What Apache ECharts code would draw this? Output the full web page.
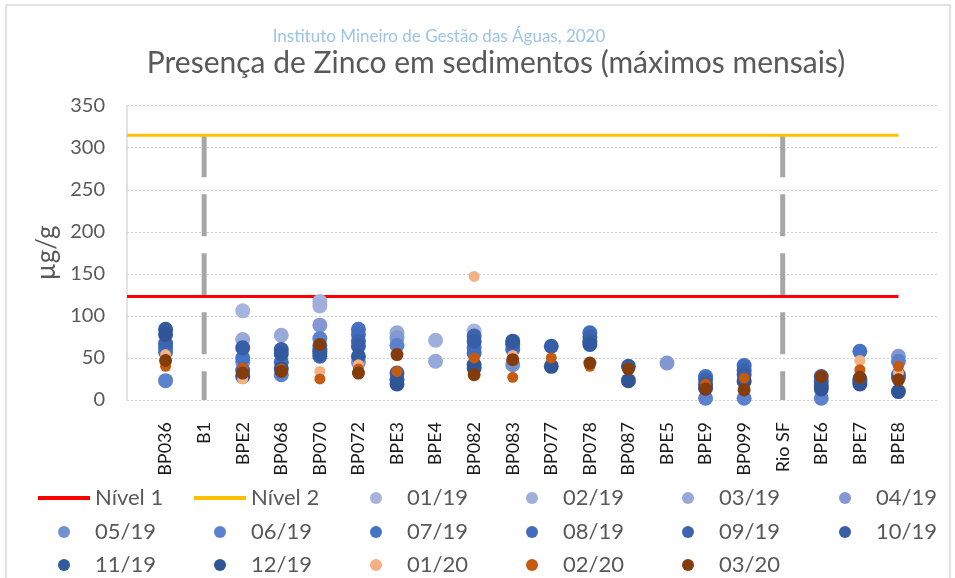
<!DOCTYPE html>
<html>
<head>
<meta charset="utf-8">
<script src="https://cdn.jsdelivr.net/npm/echarts@6/dist/echarts.min.js"></script>
<style>html,body{margin:0;padding:0;background:#fff}#c{width:955px;height:578px}</style>
</head>
<body>
<div id="c"></div>
<script>
// ---- data ----
const categories = ['BP036','B1','BPE2','BP068','BP070','BP072','BPE3','BPE4','BP082','BP083','BP077','BP078','BP087','BPE5','BPE9','BP099','Rio SF','BPE6','BPE7','BPE8'];
const seriesNames = ['01/19','02/19','03/19','04/19','05/19','06/19','07/19','08/19','09/19','10/19','11/19','12/19','01/20','02/20','03/20'];
const m01_19 = [null,null,106,null,117,null,null,null,82,null,null,null,null,null,null,null,null,null,null,null];
const m02_19 = [null,null,null,null,112,null,null,71,null,null,null,null,null,null,null,null,null,null,null,null];
const m03_19 = [null,null,72,77,null,null,80,46,null,null,null,null,null,null,null,null,null,null,null,null];
const m04_19 = [null,null,null,null,89,null,74,null,null,null,null,null,null,44,null,null,null,null,null,52];
const m05_19 = [null,null,45,null,null,45,null,null,null,42,null,null,null,null,null,null,null,null,null,null];
const m06_19 = [23,null,null,30,73,null,65,null,null,null,null,null,null,null,2,2,null,2,null,46];
const m07_19 = [57,null,50,null,65,84,null,null,62,60,null,null,null,null,28,null,null,null,58,null];
const m08_19 = [62,null,null,45,58,78,null,null,56,null,null,80,null,null,null,41,null,null,null,30];
const m09_19 = [67,null,35,null,52,70,null,null,76,66,null,75,null,null,24,35,null,28,null,null];
const m10_19 = [null,null,62,60,60,64,32,null,70,null,64,70,null,null,null,30,null,22,25,27];
const m11_19 = [84,null,null,55,55,52,24,null,42,70,null,66,40,null,18,null,null,17,22,null];
const m12_19 = [78,null,28,37,null,null,19,null,38,null,40,null,23,null,14,22,null,13,19,10];
const m01_20 = [54,null,25,null,34,42,null,null,147,53,null,null,null,null,null,null,null,null,47,32];
const m02_20 = [40,null,38,37,25,37,34,null,50,27,50,40,38,null,19,26,null,null,36,40];
const m03_20 = [47,null,32,34,66,32,54,null,30,48,null,44,37,null,13,12,null,28,27,24];
const seriesValues = [m01_19,m02_19,m03_19,m04_19,m05_19,m06_19,m07_19,m08_19,m09_19,m10_19,m11_19,m12_19,m01_20,m02_20,m03_20];
const nivel1 = 123;
const nivel2 = 315;
const dividerTop = 315;
const dividerNames = ['B1','Rio SF'];
const yTicks = [0,50,100,150,200,250,300,350];

// ---- styles ----
const colors = ['#A6B4DE','#9FAFDB','#97A9D9','#8398D3','#7290CF','#5C82CE','#4472C4','#426DBE','#3C64B1','#385EA8','#325A9E','#2F5597','#F4B183','#C55A11','#843C0C'];
const sizes = [15,15,15,15,15,15,15,15,15,15,15,15,11,11,13];
const FONT = 'Lato, "Open Sans", sans-serif';
const GREY = '#595959';

const series = [];
dividerNames.forEach(n => {
  const xi = categories.indexOf(n) + 1;
  series.push({
    type: 'line', name: '_div_' + n, data: [[xi, dividerTop], [xi, 0]],
    symbol: 'none', silent: true, z: 1,
    lineStyle: { color: '#A6A6A6', width: 5, type: [42, 17], cap: 'butt' }
  });
});
series.push({
  type: 'line', name: 'Nível 1', data: [[0, nivel1], [categories.length, nivel1]],
  symbol: 'none', z: 2, lineStyle: { color: '#FF0000', width: 3 }, itemStyle: { color: '#FF0000' }
});
series.push({
  type: 'line', name: 'Nível 2', data: [[0, nivel2], [categories.length, nivel2]],
  symbol: 'none', z: 2, lineStyle: { color: '#FFC000', width: 3 }, itemStyle: { color: '#FFC000' }
});
seriesNames.forEach((n, k) => {
  const data = [];
  seriesValues[k].forEach((v, i) => { if (v !== null) data.push([i + 1, v]); });
  series.push({
    type: 'scatter', name: n, data, symbol: 'circle', symbolSize: sizes[k], z: 3 + k,
    itemStyle: { color: colors[k], opacity: 1 }
  });
});

// legends: one per item, laid out in Excel-like columns
const legendItems = ['Nível 1', 'Nível 2'].concat(seriesNames);
const colText = [95, 251, 407, 563, 719, 876];
const rowCenter = [499, 533, 566];
const legends = legendItems.map((name, i) => {
  const isLine = i < 2;
  return {
    data: [isLine ? { name, icon: 'rect' } : { name, icon: 'circle' }],
    left: colText[i % 6] - (isLine ? 57 : 37),
    top: rowCenter[Math.floor(i / 6)] - 12,
    padding: 0, itemWidth: 52, itemHeight: isLine ? 4 : 12, itemGap: 0,
    selectedMode: false,
    textStyle: { fontFamily: FONT, fontSize: 22, color: GREY }
  };
});

const chart = echarts.init(document.getElementById('c'), null, { renderer: 'canvas' });
chart.setOption({
  backgroundColor: '#fff',
  animation: false,
  title: [
    { text: 'Instituto Mineiro de Gestão das Águas, 2020', left: 434, textAlign: 'center', top: 23,
      textStyle: { fontFamily: FONT, fontSize: 17, fontWeight: 'normal', color: '#9DC3E6' } },
    { text: 'Presença de Zinco em sedimentos (máximos mensais)', left: 491, textAlign: 'center', top: 43,
      textStyle: { fontFamily: FONT, fontSize: 30, fontWeight: 'normal', color: GREY } }
  ],
  legend: legends,
  grid: { left: 127, right: 18, top: 105.7, bottom: 178, containLabel: false },
  xAxis: {
    type: 'value', min: 0, max: categories.length + 1, interval: 1,
    axisLine: { show: false }, axisTick: { show: false }, splitLine: { show: false },
    axisLabel: {
      rotate: 90, margin: 22, fontFamily: FONT, fontSize: 18, color: '#1a1a1a',
      formatter: v => (v >= 1 && v <= categories.length) ? categories[v - 1] : ''
    }
  },
  yAxis: {
    type: 'value', min: yTicks[0], max: yTicks[yTicks.length - 1], interval: yTicks[1] - yTicks[0],
    name: 'µg/g', nameLocation: 'middle', nameGap: 64,
    nameTextStyle: { fontFamily: FONT, fontSize: 26, color: GREY },
    axisLine: { show: true, lineStyle: { color: '#D9D9D9', width: 1.5 } },
    axisTick: { show: false },
    splitLine: { show: true, lineStyle: { color: '#D0D0D0', width: 1, type: [2, 2] } },
    axisLabel: { margin: 22, fontFamily: FONT, fontSize: 20, color: GREY }
  },
  graphic: [{ type: 'rect', shape: { x: 6, y: 5, width: 944, height: 590 }, style: { fill: 'none', stroke: '#D9D9D9', lineWidth: 1.5 }, silent: true, z: -10 }],
  series
});
</script>
</body>
</html>
